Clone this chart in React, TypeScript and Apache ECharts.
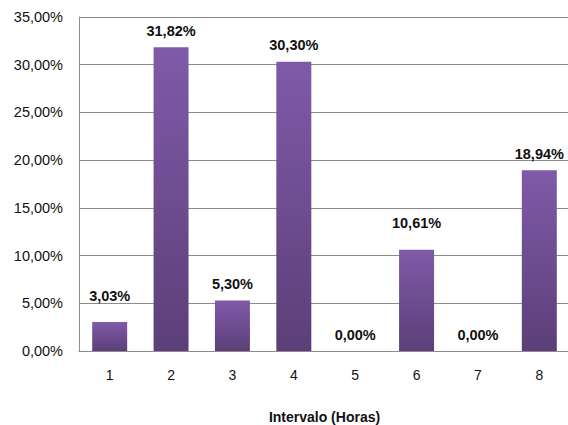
import React, { useEffect, useRef } from "react";
import * as echarts from "echarts";

const categories = ["1", "2", "3", "4", "5", "6", "7", "8"];
const values = [3.03, 31.82, 5.3, 30.3, 0, 10.61, 0, 18.94];
const yTicks = { min: 0, max: 35, interval: 5 };
const xAxisTitle = "Intervalo (Horas)";

const fmt = (v: number) => v.toFixed(2).replace(".", ",") + "%";

export default function App() {
  const ref = useRef<HTMLDivElement>(null);
  useEffect(() => {
    if (!ref.current) return;
    const chart = echarts.init(ref.current, undefined, { renderer: "svg" });
    const font = "'Liberation Sans', Arial, sans-serif";
    const raised = new Set([0, 5]);
    chart.setOption({
      animation: false,
      grid: { left: 79, top: 17, width: 491, height: 334, outerBoundsMode: "none", containLabel: false },
      xAxis: {
        type: "category",
        data: categories,
        name: xAxisTitle,
        nameLocation: "middle",
        nameGap: 59,
        nameTextStyle: { fontFamily: font, fontSize: 14, fontWeight: "bold", color: "#111" },
        axisLine: { lineStyle: { color: "#8c8c8c", width: 1 } },
        axisTick: { show: false },
        axisLabel: { fontFamily: font, fontSize: 14, color: "#111", margin: 17 },
      },
      yAxis: {
        type: "value",
        min: yTicks.min,
        max: yTicks.max,
        interval: yTicks.interval,
        axisLine: { show: true, lineStyle: { color: "#8c8c8c", width: 1 } },
        axisTick: { show: false },
        splitLine: { lineStyle: { color: "#8c8c8c", width: 1 } },
        axisLabel: {
          fontFamily: font,
          fontSize: 14.5,
          color: "#111",
          margin: 16,
          formatter: (v: number) => fmt(v),
        },
      },
      series: [
        {
          type: "bar",
          data: values.map((v, i) => ({
            value: v,
            label: { distance: raised.has(i) ? 19 : 9 },
          })),
          barWidth: 35,
          itemStyle: {
            color: new echarts.graphic.LinearGradient(0, 0, 0, 1, [
              { offset: 0, color: "#7f5aa8" },
              { offset: 1, color: "#5c3f78" },
            ]),
            borderWidth: 0,
          },
          label: {
            show: true,
            position: "top",
            fontFamily: font,
            fontSize: 14.5,
            fontWeight: "bold",
            color: "#111",
            formatter: (p: any) => fmt(p.value),
          },
        },
      ],
    });
    return () => chart.dispose();
  }, []);
  return <div ref={ref} style={{ width: 568, height: 425, position: "absolute", left: 0, top: 0 }} />;
}
